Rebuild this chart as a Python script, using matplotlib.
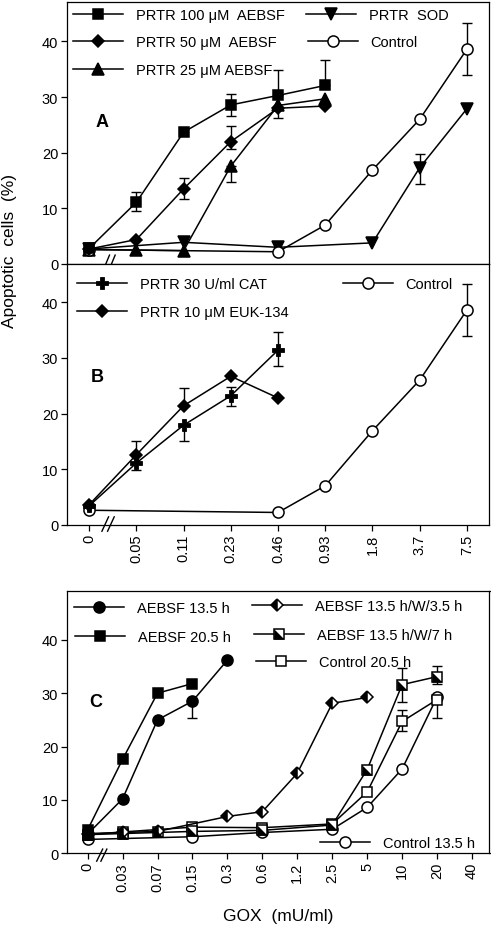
import numpy as np
import matplotlib.pyplot as plt
from matplotlib.legend_handler import HandlerTuple
from matplotlib.lines import Line2D

plt.rcParams['font.family'] = ['Liberation Sans', 'DejaVu Sans']

W, H = 491, 928

# x categories (GOX, mU/ml)
gox_ab = ["0", "0.05", "0.11", "0.23", "0.46", "0.93", "1.8", "3.7", "7.5"]
gox_c = ["0", "0.03", "0.07", "0.15", "0.3", "0.6", "1.2", "2.5", "5", "10", "20", "40"]

# panel A
a100_x = ["0", "0.05", "0.11", "0.23", "0.46", "0.93"]
a100_y = [2.8, 11.1, 23.7, 28.6, 30.3, 32.1]
a100_hi = [None, 13.0, None, 30.5, 34.8, 36.7]
a100_lo = [None, 9.6, None, 26.6, None, None]

a50_x = ["0", "0.05", "0.11", "0.23", "0.46", "0.93"]
a50_y = [2.7, 4.4, 13.5, 22.0, 28.0, 28.4]
a50_hi = [None, None, 15.4, 24.8, None, None]
a50_lo = [None, None, 11.6, 20.6, 26.2, None]

a25_x = ["0", "0.05", "0.11", "0.23", "0.46", "0.93"]
a25_y = [2.6, 2.5, 2.4, 17.6, 28.5, 29.7]
a25_hi = [None, None, None, None, None, None]
a25_lo = [None, None, None, 14.8, None, None]

sod_x = ["0", "0.11", "0.46", "1.8", "3.7", "7.5"]
sod_y = [2.7, 3.9, 3.0, 3.8, 17.3, 27.9]
sod_hi = [None, None, None, None, 19.8, None]
sod_lo = [None, None, None, None, 14.3, None]

ctl_x = ["0", "0.46", "0.93", "1.8", "3.7", "7.5"]
ctl_y = [2.6, 2.2, 7.0, 16.9, 26.0, 38.6]
ctl_hi = [None, None, None, None, None, 43.3]
ctl_lo = [None, None, None, None, None, 33.9]

# panel B
cat_x = ["0", "0.05", "0.11", "0.23", "0.46"]
cat_y = [3.4, 11.1, 17.9, 23.2, 31.4]
cat_hi = [None, None, None, 24.8, 34.6]
cat_lo = [None, 9.9, 15.1, 21.4, 28.5]

euk_x = ["0", "0.05", "0.11", "0.23", "0.46"]
euk_y = [3.6, 12.6, 21.4, 26.7, 22.8]
euk_hi = [None, 15.0, 24.6, None, None]
euk_lo = [None, None, None, None, None]

# panel C
c135_x = ["0", "0.03", "0.07", "0.15", "0.3"]
c135_y = [3.6, 10.2, 25.0, 28.5, 36.2]
c135_hi = [None, None, None, None, None]
c135_lo = [None, None, None, 25.3, None]

c205_x = ["0", "0.03", "0.07", "0.15"]
c205_y = [4.4, 17.6, 30.0, 31.8]

w35_x = ["0", "0.03", "0.07", "0.3", "0.6", "1.2", "2.5", "5"]
w35_y = [3.7, 3.9, 4.1, 6.9, 7.8, 15.0, 28.1, 29.2]

w7_x = ["0", "0.03", "0.07", "0.15", "0.6", "2.5", "5", "10", "20"]
w7_y = [3.5, 3.7, 3.9, 4.1, 4.3, 5.3, 15.7, 31.6, 33.1]
w7_hi = [None, None, None, None, None, None, None, 34.8, 35.0]
w7_lo = [None, None, None, None, None, None, None, 28.4, 31.7]

k205_x = ["0", "0.03", "0.15", "0.6", "2.5", "5", "10", "20"]
k205_y = [3.5, 4.0, 4.9, 4.8, 5.5, 11.5, 24.7, 28.8]
k205_hi = [None, None, None, None, None, None, 26.9, None]
k205_lo = [None, None, None, None, None, None, 22.9, 25.3]

k135_x = ["0", "0.15", "0.6", "2.5", "5", "10", "20"]
k135_y = [2.6, 3.1, 3.9, 4.5, 8.6, 15.8, 29.3]

yticks = [0, 10, 20, 30, 40]

# lower-left black half of a square
half_sq = [(-1, 1), (-1, -1), (1, -1), (-1, 1)]

fig = plt.figure(figsize=(W / 100, H / 100), dpi=100)
axA = fig.add_axes([67 / W, 1 - 265 / H, 422.5 / W, 262 / H])
axB = fig.add_axes([67 / W, 1 - 525.7 / H, 422.5 / W, 260.7 / H])
axC = fig.add_axes([67 / W, 1 - 854.3 / H, 422.5 / W, 262.6 / H])


def series(ax, cats, xs, ys, hi=None, lo=None, **kw):
    pos = [cats.index(v) for v in xs]
    style = dict(color='k', lw=1.1, ms=7.5, mec='k', mew=1.1, zorder=3)
    style.update(kw)
    ax.plot(pos, ys, **style)
    for i, (p, y) in enumerate(zip(pos, ys)):
        up = hi[i] - y if hi and hi[i] else 0
        dn = y - lo[i] if lo and lo[i] else 0
        if up or dn:
            ax.errorbar(p, y, yerr=[[dn], [up]], fmt='none', ecolor='k',
                        elinewidth=1.0, capsize=3.3, capthick=1.0, zorder=2)
    return pos


def style_axes(ax, cats, xlim, ylim, labels=True):
    ax.set_xlim(*xlim)
    ax.set_ylim(*ylim)
    ax.set_xticks(range(len(cats)))
    if labels:
        ax.set_xticklabels(cats, rotation=90, fontsize=10.5)
    else:
        ax.set_xticklabels([])
    ax.set_yticks(yticks)
    ax.set_yticklabels([str(t) for t in yticks], fontsize=10.5)
    ax.tick_params(direction='out', length=4.3, width=0.9, pad=2, colors='k')
    for s in ax.spines.values():
        s.set_linewidth(0.9)


def breakmark(ax, x0, x1, y0, y1):
    tr = ax.get_xaxis_transform()
    for dx in (0, 0.12):
        ax.plot([x0 + dx, x1 + dx], [y0, y1], color='k', lw=1.0,
                transform=tr, clip_on=False, zorder=5)


# --- panel A ---
series(axA, gox_ab, sod_x, sod_y, sod_hi, sod_lo, marker='v', ms=8)
series(axA, gox_ab, a25_x, a25_y, a25_hi, a25_lo, marker='^', ms=8)
series(axA, gox_ab, ctl_x, ctl_y, ctl_hi, ctl_lo, marker='o', ms=8, mfc='white')
series(axA, gox_ab, a50_x, a50_y, a50_hi, a50_lo, marker='D', ms=6.5)
series(axA, gox_ab, a100_x, a100_y, a100_hi, a100_lo, marker='s', ms=7.5)
style_axes(axA, gox_ab, (-0.47, 8.48), (0, 47.1), labels=False)
axA.text(0.084, 0.542, "A", transform=axA.transAxes, fontsize=13,
         fontweight='bold', ha='center', va='center')
breakmark(axA, 0.29, 0.43, -0.027, 0.034)

# --- panel B ---
series(axB, gox_ab, ctl_x, ctl_y, ctl_hi, ctl_lo, marker='o', ms=8, mfc='white')
series(axB, gox_ab, cat_x, cat_y, cat_hi, cat_lo, marker='P', ms=9, mew=0.6)
series(axB, gox_ab, euk_x, euk_y, euk_hi, euk_lo, marker='D', ms=6.5)
style_axes(axB, gox_ab, (-0.47, 8.48), (0, 46.9))
axB.text(0.072, 0.568, "B", transform=axB.transAxes, fontsize=13,
         fontweight='bold', ha='center', va='center')
breakmark(axB, 0.27, 0.41, -0.025, 0.03)

# --- panel C ---
series(axC, gox_c, k135_x, k135_y, marker='o', ms=8, mfc='white')
series(axC, gox_c, k205_x, k205_y, k205_hi, k205_lo, marker='s', ms=7.5, mfc='white')
p7 = series(axC, gox_c, w7_x, w7_y, w7_hi, w7_lo, marker='s', ms=7.5, mfc='white')
axC.plot(p7, w7_y, ls='none', marker=half_sq, ms=7.5, color='k', mew=0, zorder=4)
series(axC, gox_c, w35_x, w35_y, marker='D', ms=6.5, fillstyle='left',
       mfc='k', mfcalt='white')
series(axC, gox_c, c135_x, c135_y, c135_hi, c135_lo, marker='o', ms=8)
series(axC, gox_c, c205_x, c205_y, marker='s', ms=7.5)
style_axes(axC, gox_c, (-0.59, 11.5), (0, 49.2))
axC.text(0.069, 0.578, "C", transform=axC.transAxes, fontsize=13,
         fontweight='bold', ha='center', va='center')
breakmark(axC, 0.26, 0.43, -0.03, 0.016)

# --- legends ---
def h(**kw):
    st = dict(color='k', lw=1.1, ms=7.5, mec='k', mew=1.1)
    st.update(kw)
    return Line2D([], [], **st)


def entry(handle, label, x, y):
    fig.legend([handle], [label], loc='center left',
               bbox_to_anchor=(x / W, 1 - y / H), bbox_transform=fig.transFigure,
               frameon=False, borderpad=0, borderaxespad=0, handlelength=3.4,
               handletextpad=0.9, fontsize=10.5,
               handler_map={tuple: HandlerTuple(ndivide=1)})


entry(h(marker='s'), "PRTR 100 \u03bcM  AEBSF", 73, 16)
entry(h(marker='D', ms=6.5), "PRTR 50 \u03bcM  AEBSF", 73, 43)
entry(h(marker='^', ms=8), "PRTR 25 \u03bcM AEBSF", 73, 71)
entry(h(marker='v', ms=8), "PRTR  SOD", 306, 16)
entry(h(marker='o', ms=8, mfc='white'), "Control", 308, 43)

entry(h(marker='P', ms=9, mew=0.6), "PRTR 30 U/ml CAT", 77, 285)
entry(h(marker='D', ms=6.5), "PRTR 10 \u03bcM EUK-134", 77, 313)
entry(h(marker='o', ms=8, mfc='white'), "Control", 343, 285)

entry(h(marker='o', ms=8), "AEBSF 13.5 h", 74, 609)
entry(h(marker='s'), "AEBSF 20.5 h", 75, 638)
entry(h(marker='D', ms=6.5, fillstyle='left', mfc='k', mfcalt='white'),
      "AEBSF 13.5 h/W/3.5 h", 252, 607)
entry((h(marker='s', mfc='white'), h(marker=half_sq, ls='none', mew=0)),
      "AEBSF 13.5 h/W/7 h", 254, 636)
entry(h(marker='s', mfc='white'), "Control 20.5 h", 256, 663)
entry(h(marker='o', ms=8, mfc='white'), "Control 13.5 h", 320, 844)

fig.text(10 / W, 1 - 251 / H, "Apoptotic  cells  (%)", rotation=90,
         ha='center', va='center', fontsize=12.5)
fig.text(277.7 / W, 1 - 917 / H, "GOX  (mU/ml)", ha='center', va='center',
         fontsize=12.5)

fig.savefig("out.png", dpi=100)
